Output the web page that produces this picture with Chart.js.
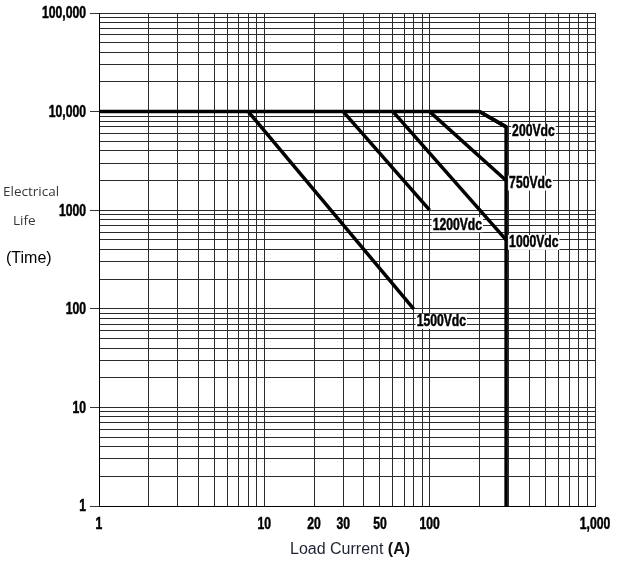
<!DOCTYPE html>
<html>
<head>
<meta charset="utf-8">
<script src="https://cdn.jsdelivr.net/npm/chart.js@4"></script>
<style>
	html, body { margin: 0; padding: 0; background: #fff; }
	#wrap { width: 617px; height: 567px; }
</style>
</head>
<body>
<div id="wrap"><canvas id="chart-life"></canvas></div>
<script>
// electrical life vs load current, one curve per voltage rating
const voltages = ["200Vdc", "750Vdc", "1000Vdc", "1200Vdc", "1500Vdc"];
const startCurrent = [200, 100, 60, 30, 8];
const endCurrent = [290, 290, 290, 100, 80];
const endLife = [7000, 2000, 500, 1000, 100];
const ratedLife = 10000;
const maxCurrent = 290;

const xTickValues = [1, 10, 20, 30, 50, 100, 1000];
const xTickText = ["1", "10", "20", "30", "50", "100", "1,000"];
const yTickValues = [1, 10, 100, 1000, 10000, 100000];
const yTickText = ["1", "10", "100", "1000", "10,000", "100,000"];

// the original uses a condensed bold face; squeeze Liberation Sans instead
const boldFont = "bold 16px 'Liberation Sans', Arial, sans-serif";
const squeeze = 0.76;

function logSteps(min, max) {
	const out = [];
	for (let d = min; d < max; d *= 10) {
		for (let k = 1; k < 10; k++) out.push(d * k);
	}
	out.push(max);
	return out;
}

function narrowText(ctx, text, x, y, align) {
	ctx.save();
	ctx.translate(x, y);
	ctx.scale(squeeze, 1);
	ctx.textAlign = align;
	ctx.lineWidth = 0.5;
	ctx.strokeStyle = ctx.fillStyle;
	ctx.fillText(text, 0, 0);
	ctx.strokeText(text, 0, 0);
	ctx.restore();
}

const datasets = [
	{
		// rated envelope: flat 10,000 line, then max current cut-off
		data: [
			{ x: 1, y: ratedLife },
			{ x: startCurrent[0], y: ratedLife },
			{ x: maxCurrent, y: endLife[0] },
			{ x: maxCurrent, y: 1 },
		],
	},
];
voltages.forEach((v, i) => {
	datasets.push({
		label: v,
		data: [
			{ x: startCurrent[i], y: ratedLife },
			{ x: endCurrent[i], y: endLife[i] },
		],
	});
});
datasets.forEach((ds) => {
	ds.showLine = true;
	ds.borderColor = "#000";
	ds.borderWidth = 3.5;
	ds.pointRadius = 0;
	ds.fill = false;
});

const labelOffsets = [
	[6, 4], [3, 2], [3, 2], [3, 14], [3, 12],
];

const chartText = {
	id: "chartText",
	afterDatasetsDraw(chart) {
		const { ctx, scales } = chart;
		ctx.save();
		ctx.font = boldFont;
		ctx.textBaseline = "middle";
		voltages.forEach((v, i) => {
			const px = scales.x.getPixelForValue(endCurrent[i]) + labelOffsets[i][0];
			const py = scales.y.getPixelForValue(endLife[i]) + labelOffsets[i][1];
			const w = ctx.measureText(v).width * squeeze;
			ctx.fillStyle = "#fff";
			ctx.fillRect(px - 1, py - 7, w + 2, 15);
			ctx.fillStyle = "#000";
			narrowText(ctx, v, px, py + 1, "left");
		});
		ctx.restore();
	},
	afterDraw(chart) {
		const { ctx, scales } = chart;
		ctx.save();
		ctx.textBaseline = "middle";
		ctx.fillStyle = "#000";
		ctx.font = boldFont;
		// tick labels
		yTickValues.forEach((v, i) => {
			narrowText(ctx, yTickText[i], 86, scales.y.getPixelForValue(v) + 1, "right");
		});
		xTickValues.forEach((v, i) => {
			narrowText(ctx, xTickText[i], scales.x.getPixelForValue(v), 525, "center");
		});
		// y title, three separate lines
		ctx.fillStyle = "#3a3633";
		ctx.font = "13.5px 'Open Sans', 'Noto Sans', sans-serif";
		ctx.textAlign = "left";
		ctx.fillText("Electrical", 3, 192);
		ctx.fillText("Life", 13, 221);
		ctx.fillStyle = "#000";
		ctx.font = "16px 'Liberation Sans', Arial, sans-serif";
		ctx.fillText("(Time)", 6, 259);
		// x title with bold unit
		const a = "Load Current ";
		const b = "(A)";
		ctx.font = "16px 'Liberation Sans', Arial, sans-serif";
		const wa = ctx.measureText(a).width;
		ctx.font = "bold 16px 'Liberation Sans', Arial, sans-serif";
		const wb = ctx.measureText(b).width;
		const x0 = 350 - (wa + wb) / 2;
		ctx.font = "16px 'Liberation Sans', Arial, sans-serif";
		ctx.fillStyle = "#1c2333";
		ctx.fillText(a, x0, 550);
		ctx.font = "bold 16px 'Liberation Sans', Arial, sans-serif";
		ctx.fillStyle = "#111";
		ctx.fillText(b, x0 + wa, 550);
		ctx.restore();
	},
};

const options = {
	responsive: true,
	maintainAspectRatio: false,
	animation: false,
	layout: { padding: { top: 13, right: 22, left: 0, bottom: 0 } },
	plugins: {
		legend: { display: false },
		tooltip: { enabled: false },
	},
	scales: {
		x: {
			type: "logarithmic",
			min: 1,
			max: 1000,
			afterBuildTicks: (scale) => {
				scale.ticks = logSteps(1, 1000).map((v) => ({ value: v }));
			},
			afterFit: (scale) => {
				scale.height = 61;
				scale.paddingLeft = 0;
				scale.paddingRight = 0;
			},
			ticks: { display: false, autoSkip: false },
			grid: { color: "#2a2a2a", lineWidth: 1, drawTicks: false },
			border: { color: "#000", width: 1 },
		},
		y: {
			type: "logarithmic",
			min: 1,
			max: 100000,
			afterBuildTicks: (scale) => {
				scale.ticks = logSteps(1, 100000).map((v) => ({ value: v }));
			},
			afterFit: (scale) => {
				scale.width = 99;
				scale.paddingTop = 0;
				scale.paddingBottom = 0;
			},
			ticks: { display: false, autoSkip: false },
			grid: {
				color: "#2a2a2a",
				lineWidth: 1,
				tickLength: 9,
				tickColor: (c) => (c.tick && yTickValues.includes(c.tick.value) ? "#333" : "transparent"),
			},
			border: { color: "#000", width: 1 },
		},
	},
};

new Chart(document.getElementById("chart-life"), {
	type: "scatter",
	data: { datasets: datasets },
	options: options,
	plugins: [chartText],
});
</script>
</body>
</html>
